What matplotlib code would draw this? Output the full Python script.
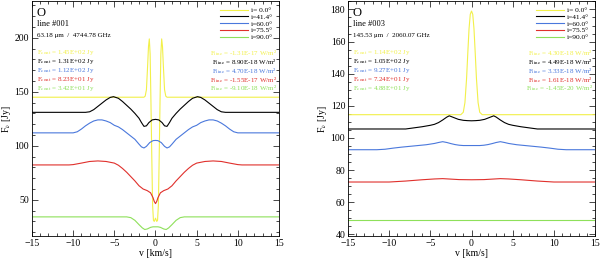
import matplotlib
matplotlib.use('Agg')
import matplotlib.pyplot as plt
from matplotlib.ticker import MultipleLocator

plt.rcParams['font.family'] = ['Liberation Serif', 'DejaVu Serif']
plt.rcParams['mathtext.fontset'] = 'stix'

incl = ['i= 0.0°', 'i=41.4°', 'i=60.0°', 'i=75.5°', 'i=90.0°']
colors = ['#f2f04a', 'black', '#4a78dc', '#e0302c', '#8ee05a']

# ---- line #001, 63.18 um
v1_a = [-15, -1.4, -1.25, -1.1, -0.95, -0.85, -0.75, -0.65, -0.55, -0.45, -0.35, -0.25, -0.15, 0,
        0.15, 0.25, 0.35, 0.45, 0.55, 0.65, 0.75, 0.85, 0.95, 1.1, 1.25, 1.4, 15]
f1_a = [145, 145, 146, 152, 175, 192, 199, 185, 140, 90, 45, 31, 30, 33,
        30, 31, 45, 90, 140, 185, 199, 192, 175, 152, 146, 145, 145]
v1_b = [-15, -8.5, -8, -7.5, -7, -6.5, -6, -5.5, -5.1, -4.5, -4, -3.5, -3, -2.5, -2, -1.7, -1.4, -1.1, -0.8, -0.4, 0,
        0.4, 0.8, 1.1, 1.4, 1.7, 2, 2.5, 3, 3.5, 4, 4.5, 5.1, 5.5, 6, 6.5, 7, 7.5, 8, 8.5, 15]
f1_b = [131, 131, 131.5, 133.5, 136.5, 139.5, 142.5, 144.8, 145.5, 144, 141, 137.5, 134, 130, 125.5, 121.5, 118, 118.5, 121.5, 124, 124.5,
        124, 121.5, 118.5, 118, 121.5, 125.5, 130, 134, 137.5, 141, 144, 145.5, 144.8, 142.5, 139.5, 136.5, 133.5, 131.5, 131, 131]
v1_c = [-15, -10, -9.5, -9, -8.5, -8, -7.5, -7, -6.5, -6, -5.5, -5, -4.5, -4, -3.5, -3, -2.5, -2, -1.7, -1.4, -1.1, -0.7, -0.3, 0,
        0.3, 0.7, 1.1, 1.4, 1.7, 2, 2.5, 3, 3.5, 4, 4.5, 5, 5.5, 6, 6.5, 7, 7.5, 8, 8.5, 9, 9.5, 10, 15]
f1_c = [112, 112, 113, 115.5, 118.5, 121, 123, 124, 124, 123, 121.5, 119, 117.5, 115, 112, 109, 106, 101.5, 99, 98, 99.5, 103, 104.8, 105,
        104.8, 103, 99.5, 98, 99, 101.5, 106, 109, 112, 115, 117.5, 119, 121.5, 123, 124, 124, 123, 121, 118.5, 115.5, 113, 112, 112]
v1_d = [-15, -10.5, -10, -9, -8, -7, -6, -5, -4.5, -4, -3.5, -3, -2.5, -2, -1.5, -1, -0.6, -0.3, -0.15, 0,
        0.15, 0.3, 0.6, 1, 1.5, 2, 2.5, 3, 3.5, 4, 4.5, 5, 6, 7, 8, 9, 10, 10.5, 15]
f1_d = [82.3, 82.3, 82.6, 84, 85.5, 86, 85.5, 84, 82, 79, 75.5, 71.5, 67.5, 63, 60, 58.5, 56.5, 52, 48.5, 46.5,
        48.5, 52, 56.5, 58.5, 60, 63, 67.5, 71.5, 75.5, 79, 82, 84, 85.5, 86, 85.5, 84, 82.6, 82.3, 82.3]
v1_e = [-15, -3.5, -3, -2.5, -2, -1.6, -1.3, -1, -0.6, -0.3, 0, 0.3, 0.6, 1, 1.3, 1.6, 2, 2.5, 3, 3.5, 15]
f1_e = [34.2, 34.2, 33.5, 31, 27, 24, 22.5, 23, 24.5, 25, 25, 25, 24.5, 23, 22.5, 24, 27, 31, 33.5, 34.2, 34.2]

# ---- line #003, 145.53 um
v3_a = [-15, -1.3, -1, -0.8, -0.6, -0.45, -0.3, -0.15, 0, 0.15, 0.3, 0.45, 0.6, 0.8, 1, 1.3, 15]
f3_a = [114.5, 114.5, 116, 122, 137, 153, 168, 177, 179, 177, 168, 153, 137, 122, 116, 114.5, 114.5]
v3_b = [-15, -8, -7, -6, -5, -4.5, -4, -3.5, -3, -2.7, -2.2, -1.6, -1, -0.5, 0,
        0.5, 1, 1.6, 2.2, 2.7, 3, 3.5, 4, 4.5, 5, 6, 7, 8, 15]
f3_b = [105.6, 105.6, 106.3, 107.0, 107.9, 108.5, 109.6, 111.2, 113, 113.8, 112.8, 111.6, 111, 110.8, 110.7,
        110.8, 111, 111.6, 112.8, 113.8, 113, 111.2, 109.6, 108.5, 107.9, 107.0, 106.3, 105.6, 105.6]
v3_c = [-15, -11.5, -10.5, -9.5, -8.5, -7.5, -6.5, -5.5, -4.5, -4, -3.5, -3, -2.5, -2, -1.5, -1, 0,
        1, 1.5, 2, 2.5, 3, 3.5, 4, 4.5, 5.5, 6.5, 7.5, 8.5, 9.5, 10.5, 11.5, 15]
f3_c = [92.7, 92.7, 93.0, 93.7, 94.3, 94.8, 95.3, 95.8, 96.6, 97.2, 97.7, 97.2, 96.5, 95.9, 95.5, 95.3, 95.3,
        95.3, 95.5, 95.9, 96.5, 97.2, 97.7, 97.2, 96.6, 95.8, 95.3, 94.8, 94.3, 93.7, 93.0, 92.7, 92.7]
v3_d = [-15, -10, -8, -6, -4.5, -3.5, -2.5, -1.5, 0, 1.5, 2.5, 3.5, 4.5, 6, 8, 10, 15]
f3_d = [72.6, 72.6, 73.2, 74.0, 74.5, 74.7, 74.4, 74.1, 74.0, 74.1, 74.4, 74.7, 74.5, 74.0, 73.2, 72.6, 72.6]
v3_e = [-15, 15]
f3_e = [48.8, 48.8]

panels = [
    dict(name='line #001', wave='63.18 μm  /  4744.78 GHz',
         v=[v1_a, v1_b, v1_c, v1_d, v1_e], f=[f1_a, f1_b, f1_c, f1_d, f1_e],
         cont=['1.45E+02', '1.31E+02', '1.12E+02', '8.23E+01', '3.42E+01'],
         fline=['-1.31E-17', '8.90E-18', '4.70E-18', '-1.55E-17', '-9.10E-18'],
         ylim=(16.5, 234), major=50, minor=10),
    dict(name='line #003', wave='145.53 μm  /  2060.07 GHz',
         v=[v3_a, v3_b, v3_c, v3_d, v3_e], f=[f3_a, f3_b, f3_c, f3_d, f3_e],
         cont=['1.14E+02', '1.05E+02', '9.27E+01', '7.24E+01', '4.88E+01'],
         fline=['4.30E-18', '4.49E-18', '3.33E-18', '1.61E-18', '-1.45E-20'],
         ylim=(39, 185.2), major=20, minor=5),
]

fig = plt.figure(figsize=(6, 2.61), dpi=100)
lefts = [0.0533, 0.58]
for p, left in zip(panels, lefts):
    ax = fig.add_axes([left, 0.0958, 0.4117, 0.9])
    for vv, ff, c, lab in zip(p['v'], p['f'], colors, incl):
        ax.plot(vv, ff, color=c, lw=0.8, label=lab)
    ax.set_xlim(-15, 15)
    ax.set_ylim(*p['ylim'])
    ax.xaxis.set_major_locator(MultipleLocator(5))
    ax.xaxis.set_minor_locator(MultipleLocator(1))
    ax.yaxis.set_major_locator(MultipleLocator(p['major']))
    ax.yaxis.set_minor_locator(MultipleLocator(p['minor']))
    ax.tick_params(which='both', direction='in', top=True, right=True, labelsize=7, width=0.5, pad=2)
    ax.tick_params(which='major', length=4)
    ax.tick_params(which='minor', length=2)
    for s in ax.spines.values():
        s.set_linewidth(0.6)
    ax.set_xlabel('v [km/s]', fontsize=7, labelpad=1)
    ax.set_ylabel(r'F$_\nu$ [Jy]', fontsize=7, labelpad=1)

    ax.text(0.02, 0.975, 'O', transform=ax.transAxes, fontsize=9, va='top')
    ax.text(0.02, 0.92, p['name'], transform=ax.transAxes, fontsize=6, va='top')
    ax.text(0.02, 0.865, p['wave'], transform=ax.transAxes, fontsize=5, va='top')
    for k in range(5):
        y = 0.78 - k * 0.038
        ax.text(0.02, y, r'F$_{\rm cont}$ = ' + p['cont'][k] + ' Jy', transform=ax.transAxes,
                fontsize=5, color=colors[k], va='center')
        ax.text(0.99, y, r'F$_{\rm line}$ = ' + p['fline'][k] + ' W/m²', transform=ax.transAxes,
                fontsize=5, color=colors[k], va='center', ha='right')
    ax.legend(loc='upper right', frameon=False, fontsize=5.3, handlelength=3.8, handletextpad=0.4,
              labelspacing=0.08, borderaxespad=0.6, borderpad=0.2)

fig.savefig('out.png', dpi=100)
